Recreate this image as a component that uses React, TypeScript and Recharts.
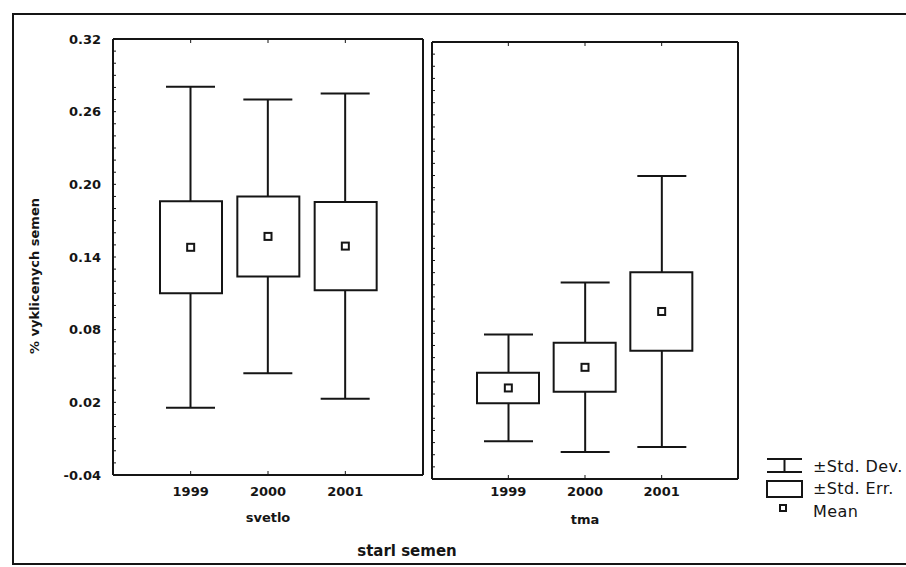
import { ComposedChart, Bar, Scatter, XAxis, YAxis, Legend } from "recharts";

// mean, std. err. and std. dev. per seed age, light (svetlo) vs dark (tma)
const years = ["1999", "2000", "2001"];
const svetloMean = [0.148, 0.157, 0.149];
const svetloSe = [0.038, 0.033, 0.0365];
const svetloSd = [0.1325, 0.113, 0.126];
const tmaMean = [0.035, 0.052, 0.098];
const tmaSe = [0.0125, 0.0202, 0.0323];
const tmaSd = [0.044, 0.0698, 0.1117];

const yLabels = ["-0.04", "0.02", "0.08", "0.14", "0.20", "0.26", "0.32"];
const yTicks = [
  -0.04, -0.03, -0.02, -0.01, 0, 0.01, 0.02, 0.03, 0.04, 0.05, 0.06, 0.07, 0.08,
  0.09, 0.1, 0.11, 0.12, 0.13, 0.14, 0.15, 0.16, 0.17, 0.18, 0.19, 0.2, 0.21,
  0.22, 0.23, 0.24, 0.25, 0.26, 0.27, 0.28, 0.29, 0.3, 0.31, 0.32,
];
const legendLabels = ["±Std. Dev.", "±Std. Err.", "Mean"];

const INK = "#151515";

const buildRows = (mean: number[], se: number[], sd: number[]) =>
  years.map((year, i) => ({
    year,
    mean: mean[i],
    se: [mean[i] - se[i], mean[i] + se[i]],
    sd: [mean[i] - sd[i], mean[i] + sd[i]],
  }));

const svetloRows = buildRows(svetloMean, svetloSe, svetloSd);
const tmaRows = buildRows(tmaMean, tmaSe, tmaSd);

const Whisker = (props: any) => {
  const { x, y, width, height } = props;
  const top = Math.min(y, y + height);
  const bottom = Math.max(y, y + height);
  const cx = x + width / 2;
  return (
    <g stroke={INK} strokeWidth={2}>
      <line x1={cx} x2={cx} y1={top} y2={bottom} />
      <line x1={x} x2={x + width} y1={top} y2={top} />
      <line x1={x} x2={x + width} y1={bottom} y2={bottom} />
    </g>
  );
};

const MeanMark = (props: any) => (
  <rect x={props.cx - 3.5} y={props.cy - 3.5} width={7} height={7} fill="#fff" stroke={INK} strokeWidth={2} />
);

const LegendBox = () => (
  <svg width={140} height={66} style={{ overflow: "visible" }}>
    <g stroke={INK} strokeWidth={2} fill="#fff">
      <line x1={1} x2={36} y1={3} y2={3} />
      <line x1={18.5} x2={18.5} y1={3} y2={16} />
      <line x1={1} x2={36} y1={16} y2={16} />
      <rect x={1} y={25} width={35} height={16} />
      <rect x={14} y={49} width={6} height={6} />
    </g>
    {legendLabels.map((t, i) => (
      <text key={t} x={47} y={10 + i * 22.5} dominantBaseline="central" fontSize={16} letterSpacing={0.4} fill={INK}>
        {t}
      </text>
    ))}
  </svg>
);

const tickStyle = { fill: INK, fontSize: 13, fontWeight: 700 };
const yFormat = (v: number) => {
  const s = v.toFixed(2);
  return yLabels.includes(s) ? s : "";
};

function Panel(props: any) {
  const { rows, name, pos, width, height, margin, yWidth, showY, pad, tickMargin, labelOffset, legend } = props;
  return (
    <div style={{ position: "absolute", left: pos[0], top: pos[1] }}>
      <ComposedChart width={width} height={height} data={rows} margin={margin}>
        <XAxis
          xAxisId="sd"
          dataKey="year"
          height={55}
          padding={{ left: pad, right: pad }}
          stroke={INK}
          axisLine={{ strokeWidth: 2 }}
          tickSize={-4}
          tickMargin={tickMargin}
          tick={tickStyle}
          label={{ value: name, position: "insideBottom", offset: labelOffset, fill: INK, fontSize: 13, fontWeight: 700 }}
        />
        <XAxis xAxisId="se" dataKey="year" hide padding={{ left: pad, right: pad }} />
        <XAxis
          xAxisId="top"
          dataKey="year"
          orientation="top"
          height={1}
          padding={{ left: pad, right: pad }}
          stroke={INK}
          axisLine={{ strokeWidth: 2 }}
          tickSize={-4}
          tickFormatter={() => ""}
        />
        <YAxis
          yAxisId="y"
          type="number"
          domain={[-0.04, 0.32]}
          ticks={yTicks}
          interval={0}
          width={yWidth}
          stroke={INK}
          axisLine={{ strokeWidth: 2 }}
          tickSize={-3}
          tickMargin={15}
          tick={tickStyle}
          tickFormatter={showY ? yFormat : () => ""}
        />
        <YAxis
          yAxisId="yr"
          orientation="right"
          type="number"
          domain={[-0.04, 0.32]}
          ticks={yTicks}
          interval={0}
          width={1}
          stroke={INK}
          axisLine={{ strokeWidth: 2 }}
          tickSize={-3}
          tickFormatter={() => ""}
        />
        <Bar xAxisId="sd" yAxisId="y" dataKey="sd" barSize={49} shape={<Whisker />} isAnimationActive={false} />
        <Bar
          xAxisId="se"
          yAxisId="y"
          dataKey="se"
          barSize={62}
          fill="#fff"
          stroke={INK}
          strokeWidth={2}
          isAnimationActive={false}
        />
        <Scatter xAxisId="sd" yAxisId="y" dataKey="mean" shape={<MeanMark />} isAnimationActive={false} />
        {legend && (
          <Legend
            layout="vertical"
            align="center"
            verticalAlign="middle"
            wrapperStyle={{ left: 341, top: 434, width: 140, height: 66 }}
            content={() => <LegendBox />}
          />
        )}
      </ComposedChart>
    </div>
  );
}

export default function App() {
  return (
    <div
      style={{
        position: "absolute",
        left: 0,
        top: 0,
        width: 906,
        height: 567,
        background: "#fff",
        fontFamily: "'DejaVu Sans', sans-serif",
      }}
    >
      <div
        style={{
          position: "absolute",
          left: 12,
          top: 13,
          width: 892,
          height: 548,
          borderLeft: `2px solid ${INK}`,
          borderTop: `2px solid ${INK}`,
          borderBottom: `2px solid ${INK}`,
        }}
      />
      <Panel
        rows={svetloRows}
        name="svetlo"
        pos={[20, 20]}
        width={413}
        height={510}
        margin={{ top: 18, right: 9, left: 0, bottom: 0 }}
        yWidth={93}
        showY
        pad={39}
        tickMargin={16}
        labelOffset={8}
      />
      <Panel
        rows={tmaRows}
        name="tma"
        pos={[425, 22]}
        width={481}
        height={512}
        margin={{ top: 19, right: 167, left: 0, bottom: 0 }}
        yWidth={7}
        showY={false}
        pad={38}
        tickMargin={12}
        labelOffset={10}
        legend
      />
      <svg width={906} height={567} style={{ position: "absolute", left: 0, top: 0, pointerEvents: "none" }}>
        <text
          x={34.5}
          y={276}
          transform="rotate(-90, 34.5, 276)"
          textAnchor="middle"
          dominantBaseline="central"
          fontSize={13}
          fontWeight={700}
          fill={INK}
        >
          % vyklicenych semen
        </text>
        <text x={407} y={551} textAnchor="middle" dominantBaseline="central" fontSize={15} fontWeight={700} fill={INK}>
          starl semen
        </text>
      </svg>
    </div>
  );
}
